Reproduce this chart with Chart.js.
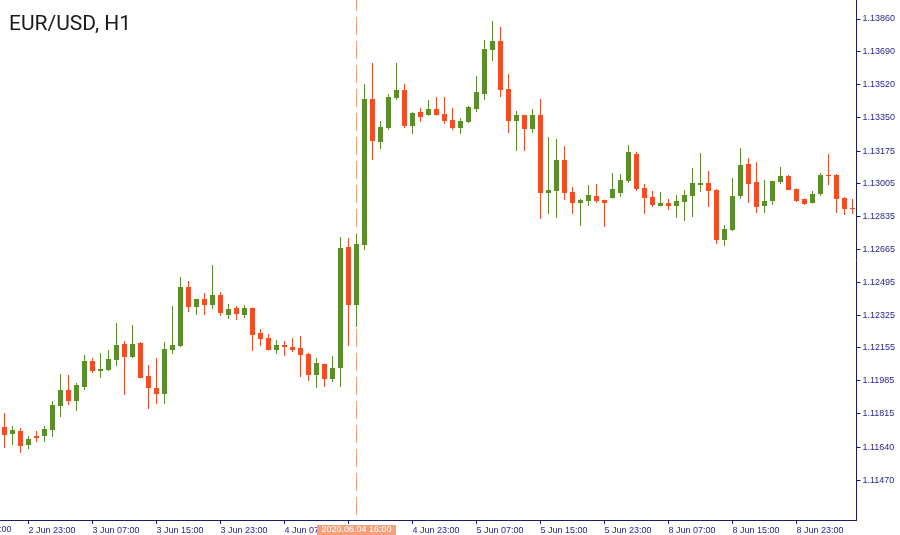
<!DOCTYPE html>
<html>
<head>
<meta charset="utf-8">
<script src="https://cdn.jsdelivr.net/npm/chart.js@4.4.1/dist/chart.umd.min.js"></script>
<style>
  html, body { margin: 0; padding: 0; background: #ffffff; }
  #wrap { position: relative; width: 900px; height: 535px; }
  canvas { display: block; }
</style>
</head>
<body>
<div id="wrap"><canvas id="c" width="900" height="535"></canvas></div>
<script>
// ---------- DATA ----------
const times = [
  '2 Jun 20:00','2 Jun 21:00','2 Jun 22:00','2 Jun 23:00',
  '3 Jun 00:00','3 Jun 01:00','3 Jun 02:00','3 Jun 03:00','3 Jun 04:00','3 Jun 05:00','3 Jun 06:00','3 Jun 07:00',
  '3 Jun 08:00','3 Jun 09:00','3 Jun 10:00','3 Jun 11:00','3 Jun 12:00','3 Jun 13:00','3 Jun 14:00','3 Jun 15:00',
  '3 Jun 16:00','3 Jun 17:00','3 Jun 18:00','3 Jun 19:00','3 Jun 20:00','3 Jun 21:00','3 Jun 22:00','3 Jun 23:00',
  '4 Jun 00:00','4 Jun 01:00','4 Jun 02:00','4 Jun 03:00','4 Jun 04:00','4 Jun 05:00','4 Jun 06:00','4 Jun 07:00',
  '4 Jun 08:00','4 Jun 09:00','4 Jun 10:00','4 Jun 11:00','4 Jun 12:00','4 Jun 13:00','4 Jun 14:00','4 Jun 15:00',
  '4 Jun 16:00','4 Jun 17:00','4 Jun 18:00','4 Jun 19:00','4 Jun 20:00','4 Jun 21:00','4 Jun 22:00','4 Jun 23:00',
  '5 Jun 00:00','5 Jun 01:00','5 Jun 02:00','5 Jun 03:00','5 Jun 04:00','5 Jun 05:00','5 Jun 06:00','5 Jun 07:00',
  '5 Jun 08:00','5 Jun 09:00','5 Jun 10:00','5 Jun 11:00','5 Jun 12:00','5 Jun 13:00','5 Jun 14:00','5 Jun 15:00',
  '5 Jun 16:00','5 Jun 17:00','5 Jun 18:00','5 Jun 19:00','5 Jun 20:00','5 Jun 21:00','5 Jun 22:00','5 Jun 23:00',
  '8 Jun 00:00','8 Jun 01:00','8 Jun 02:00','8 Jun 03:00','8 Jun 04:00','8 Jun 05:00','8 Jun 06:00','8 Jun 07:00',
  '8 Jun 08:00','8 Jun 09:00','8 Jun 10:00','8 Jun 11:00','8 Jun 12:00','8 Jun 13:00','8 Jun 14:00','8 Jun 15:00',
  '8 Jun 16:00','8 Jun 17:00','8 Jun 18:00','8 Jun 19:00','8 Jun 20:00','8 Jun 21:00','8 Jun 22:00','8 Jun 23:00',
  '9 Jun 00:00','9 Jun 01:00','9 Jun 02:00','9 Jun 03:00','9 Jun 04:00','9 Jun 05:00','9 Jun 06:00'
];

const openP = [
  1.11745,1.11709,1.11724,1.11652,1.11698,1.11698,1.11729,1.11854,1.11937,1.11880,
  1.11952,1.12087,1.12035,1.12040,1.12092,1.12175,1.12108,1.12180,1.12009,1.11947,
  1.11916,1.12144,1.12165,1.12471,1.12367,1.12408,1.12377,1.12429,1.12326,1.12362,
  1.12326,1.12362,1.12232,1.12206,1.12144,1.12170,1.12160,1.12154,1.12123,1.12015,
  1.12072,1.11994,1.12051,1.12678,1.12377,1.12688,1.13445,1.13222,1.13295,1.13450,
  1.13492,1.13305,1.13378,1.13362,1.13393,1.13368,1.13336,1.13295,1.13326,1.13393,
  1.13471,1.13699,1.13746,1.13497,1.13331,1.13362,1.13290,1.13362,1.12958,1.12968,
  1.13129,1.12963,1.12906,1.12917,1.12942,1.12922,1.12932,1.12958,1.13020,1.13160,
  1.12984,1.12937,1.12891,1.12906,1.12891,1.12911,1.12942,1.12999,1.13010,1.12974,
  1.12714,1.12766,1.12942,1.13108,1.13015,1.12891,1.12917,1.13015,1.13046,1.12979,
  1.12927,1.12906,1.12953,1.13051,1.13051,1.12932,1.12880
];
const highP = [
  1.11818,1.11750,1.11740,1.11698,1.11724,1.11750,1.11880,1.12020,1.12015,1.11973,
  1.12118,1.12103,1.12129,1.12144,1.12284,1.12191,1.12274,1.12186,1.12066,1.12103,
  1.12186,1.12372,1.12523,1.12502,1.12410,1.12440,1.12585,1.12445,1.12383,1.12372,
  1.12377,1.12364,1.12253,1.12227,1.12196,1.12191,1.12206,1.12217,1.12129,1.12103,
  1.12074,1.12113,1.12730,1.12725,1.12745,1.13523,1.13632,1.13331,1.13471,1.13632,
  1.13523,1.13378,1.13399,1.13440,1.13456,1.13456,1.13399,1.13347,1.13409,1.13565,
  1.13751,1.13850,1.13819,1.13575,1.13383,1.13364,1.13393,1.13445,1.13248,1.13238,
  1.13202,1.12989,1.12927,1.13000,1.13005,1.12924,1.13062,1.13056,1.13207,1.13172,
  1.13005,1.12968,1.12963,1.12927,1.12948,1.12974,1.13088,1.13165,1.13072,1.12979,
  1.12792,1.13036,1.13191,1.13139,1.13119,1.13025,1.13022,1.13093,1.13051,1.12981,
  1.12929,1.12968,1.13062,1.13160,1.13056,1.12937,1.12927
];
const lowP = [
  1.11636,1.11652,1.11610,1.11631,1.11667,1.11667,1.11693,1.11797,1.11859,1.11828,
  1.11937,1.12025,1.11999,1.12035,1.12061,1.11911,1.12103,1.11996,1.11838,1.11864,
  1.11864,1.12123,1.12160,1.12341,1.12326,1.12326,1.12357,1.12320,1.12305,1.12300,
  1.12310,1.12139,1.12165,1.12142,1.12123,1.12113,1.12134,1.12004,1.11983,1.11947,
  1.11952,1.11978,1.11952,1.12165,1.12263,1.12662,1.13129,1.13186,1.13285,1.13440,
  1.13295,1.13264,1.13326,1.13357,1.13360,1.13316,1.13285,1.13264,1.13321,1.13378,
  1.13440,1.13642,1.13456,1.13269,1.13176,1.13176,1.13269,1.12823,1.12849,1.12828,
  1.12922,1.12849,1.12787,1.12891,1.12906,1.12782,1.12930,1.12937,1.13010,1.12968,
  1.12849,1.12885,1.12889,1.12870,1.12828,1.12813,1.12834,1.12963,1.12885,1.12694,
  1.12683,1.12761,1.12927,1.12906,1.12854,1.12854,1.12896,1.13005,1.12972,1.12911,
  1.12896,1.12904,1.12942,1.12999,1.12854,1.12844,1.12849
];
const closeP = [
  1.11703,1.11729,1.11646,1.11683,1.11688,1.11735,1.11859,1.11937,1.11880,1.11963,
  1.12087,1.12035,1.12046,1.12097,1.12170,1.12108,1.12175,1.11999,1.11947,1.11916,
  1.12149,1.12170,1.12471,1.12367,1.12408,1.12377,1.12429,1.12336,1.12357,1.12331,
  1.12362,1.12222,1.12201,1.12144,1.12170,1.12160,1.12144,1.12118,1.12015,1.12077,
  1.11994,1.12051,1.12673,1.12377,1.12694,1.13445,1.13228,1.13300,1.13456,1.13492,
  1.13305,1.13373,1.13352,1.13393,1.13362,1.13331,1.13295,1.13331,1.13404,1.13482,
  1.13704,1.13746,1.13492,1.13331,1.13362,1.13290,1.13362,1.12958,1.12974,1.13129,
  1.12958,1.12906,1.12922,1.12948,1.12917,1.12906,1.12979,1.13025,1.13171,1.12979,
  1.12932,1.12896,1.12906,1.12891,1.12917,1.12948,1.13010,1.13010,1.12968,1.12714,
  1.12771,1.12942,1.13103,1.13005,1.12885,1.12917,1.13020,1.13046,1.12974,1.12917,
  1.12901,1.12953,1.13051,1.13046,1.12927,1.12875,1.12875
];

const yTicks = [1.13860,1.13690,1.13520,1.13350,1.13175,1.13005,1.12835,1.12665,
                1.12495,1.12325,1.12155,1.11985,1.11815,1.11640,1.11470];
const xTickLabels = ['2 Jun 23:00','3 Jun 07:00','3 Jun 15:00','3 Jun 23:00','4 Jun 07:00',
                     '4 Jun 15:00','4 Jun 23:00','5 Jun 07:00','5 Jun 15:00','5 Jun 23:00',
                     '8 Jun 07:00','8 Jun 15:00','8 Jun 23:00'];
const clippedLeftLabel = '2 Jun 15:00';   // label 5 bars before the first visible bar
const crossTime = '4 Jun 16:00';
const crossLabel = '2020.06.04 16:00';
const titleText = 'EUR/USD, H1';
const yMin = 1.112628, yMax = 1.139585;

// ---------- STYLE ----------
const UP = '#5a8f29', DOWN = '#f44c24';
const NAVY = '#1f1f8c', AXIS = '#1c1c6c';
const SALMON = '#f6a07a';
const FONT = 'Liberation Sans';

const barColors = openP.map((o, i) => closeP[i] >= o ? UP : DOWN);
const wickData = lowP.map((l, i) => [l, highP[i]]);
const bodyData = openP.map((o, i) => [o, closeP[i]]);

const overlay = {
  id: 'overlay',
  beforeDatasetsDraw(chart) {
    const ctx = chart.ctx, xs = chart.scales.x, area = chart.chartArea;
    const x = Math.round(xs.getPixelForValue(times.indexOf(crossTime)) - 0.5) + 0.5;
    ctx.save();
    ctx.strokeStyle = SALMON;
    ctx.lineWidth = 1;
    ctx.setLineDash([18, 6]);
    ctx.lineDashOffset = 7;
    ctx.beginPath();
    ctx.moveTo(x, 0);
    ctx.lineTo(x, area.bottom);
    ctx.stroke();
    ctx.restore();
  },
  afterDraw(chart) {
    const ctx = chart.ctx, xs = chart.scales.x, area = chart.chartArea;
    ctx.save();
    // title
    ctx.fillStyle = '#1a1a1a';
    ctx.font = '21px Roboto';
    ctx.textAlign = 'left';
    ctx.textBaseline = 'alphabetic';
    ctx.fillText(titleText, 9, 30);
    // clipped left label
    const step = xs.getPixelForValue(1) - xs.getPixelForValue(0);
    ctx.font = '9px "' + FONT + '"';
    ctx.fillStyle = NAVY;
    ctx.textBaseline = 'middle';
    ctx.fillText(clippedLeftLabel, xs.getPixelForValue(0) - 5 * step, 530);
    // crosshair time label
    const cx = xs.getPixelForValue(times.indexOf(crossTime));
    ctx.fillStyle = SALMON;
    ctx.fillRect(Math.round(cx) - 40, area.bottom + 5, 79, 10);
    ctx.fillStyle = '#ffffff';
    ctx.textAlign = 'center';
    ctx.fillText(crossLabel, cx, 530);
    ctx.restore();
  }
};

Chart.defaults.font.family = FONT;

new Chart(document.getElementById('c'), {
  type: 'bar',
  data: {
    labels: times,
    datasets: [
      {
        label: 'wick', data: wickData, backgroundColor: barColors,
        barThickness: 1, grouped: false, borderWidth: 0, inflateAmount: 0, order: 2
      },
      {
        label: 'body', data: bodyData, backgroundColor: barColors,
        barThickness: 5, grouped: false, borderWidth: 0, inflateAmount: 0, minBarLength: 1, order: 1
      }
    ]
  },
  options: {
    responsive: false,
    animation: false,
    devicePixelRatio: 1,
    layout: { autoPadding: false, padding: { left: 0.5, top: 0, right: 0, bottom: 0 } },
    plugins: { legend: { display: false }, tooltip: { enabled: false }, title: { display: false } },
    scales: {
      x: {
        type: 'category',
        offset: true,
        grid: {
          offset: false,
          drawOnChartArea: false,
          drawTicks: true,
          tickLength: 4,
          color: (c) => xTickLabels.includes(times[c.index]) ? AXIS : 'rgba(0,0,0,0)'
        },
        border: { display: true, color: AXIS, width: 1 },
        ticks: {
          autoSkip: false, maxRotation: 0, minRotation: 0, align: 'start', padding: 1,
          color: NAVY, font: { size: 9, family: FONT },
          callback: function (v, i) { return xTickLabels.includes(times[i]) ? times[i] : ''; }
        },
        afterFit: (s) => { s.height = 15; s.paddingLeft = 0; s.paddingRight = 0; }
      },
      y: {
        position: 'right',
        min: yMin, max: yMax,
        grid: { drawOnChartArea: false, drawTicks: true, tickLength: 4, color: AXIS },
        border: { display: true, color: AXIS, width: 1 },
        afterBuildTicks: (s) => { s.ticks = yTicks.map(v => ({ value: v })); },
        ticks: {
          padding: 2, color: NAVY, font: { size: 9, family: FONT },
          callback: (v) => Number(v).toFixed(5)
        },
        afterFit: (s) => { s.width = 43.5; s.paddingTop = 0; s.paddingBottom = 0; }
      }
    }
  },
  plugins: [overlay]
});
</script>
</body>
</html>
